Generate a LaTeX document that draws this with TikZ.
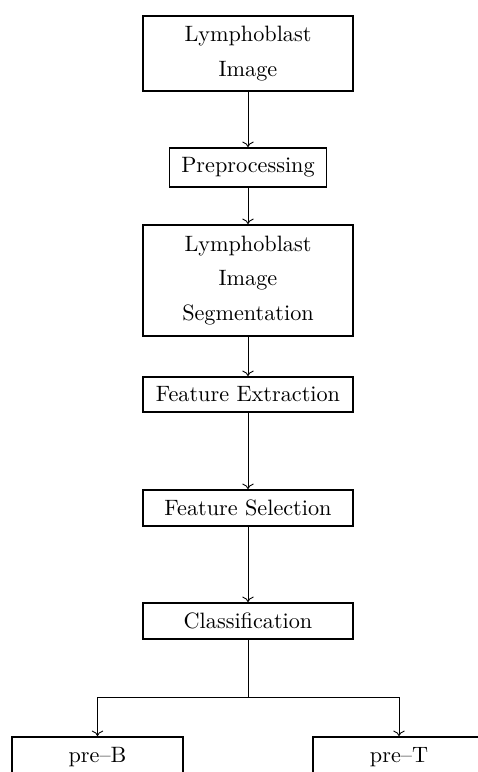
\documentclass[tikz,border=0pt]{standalone}
\usetikzlibrary{arrows.meta}
\begin{document}
\begin{tikzpicture}[x=0.45pt,y=-0.45pt,
  box/.style={draw, line width=0.8pt, inner sep=0pt, align=center,
    font=\fontsize{10pt}{15.5pt}\selectfont},
  link/.style={->, line width=0.4pt}]
  \useasboundingbox (0,0) rectangle (478,772);
  \clip (0,0) rectangle (478,772);

  \node[box, minimum width=210*0.45pt, minimum height=75*0.45pt] (img) at (248,53.5) {Lymphoblast\\Image};
  \node[box, minimum width=157*0.45pt, minimum height=39*0.45pt] (pre) at (248,167.5) {Preprocessing};
  \node[box, minimum width=210*0.45pt, minimum height=111*0.45pt] (seg) at (248,280.5) {Lymphoblast\\Image\\Segmentation};
  \node[box, minimum width=210*0.45pt, minimum height=35*0.45pt] (fe) at (248,394.5) {Feature Extraction};
  \node[box, minimum width=210*0.45pt, minimum height=36*0.45pt] (fs) at (248,508) {Feature Selection};
  \node[box, minimum width=210*0.45pt, minimum height=36*0.45pt] (cls) at (248,621) {Classification};
  \node[box, minimum width=171*0.45pt, minimum height=40*0.45pt] (preB) at (97.5,757) {pre--B};
  \node[box, minimum width=172*0.45pt, minimum height=40*0.45pt] (preT) at (399,757) {pre--T};

  \coordinate (split) at (248,697);

  \draw[link] (img) -- (pre);
  \draw[link] (pre) -- (seg);
  \draw[link] (seg) -- (fe);
  \draw[link] (fe) -- (fs);
  \draw[link] (fs) -- (cls);
  \draw[line width=0.4pt] (cls) -- (split);
  \draw[link] (split) -| (preB);
  \draw[link] (split) -| (preT);
\end{tikzpicture}
\end{document}
